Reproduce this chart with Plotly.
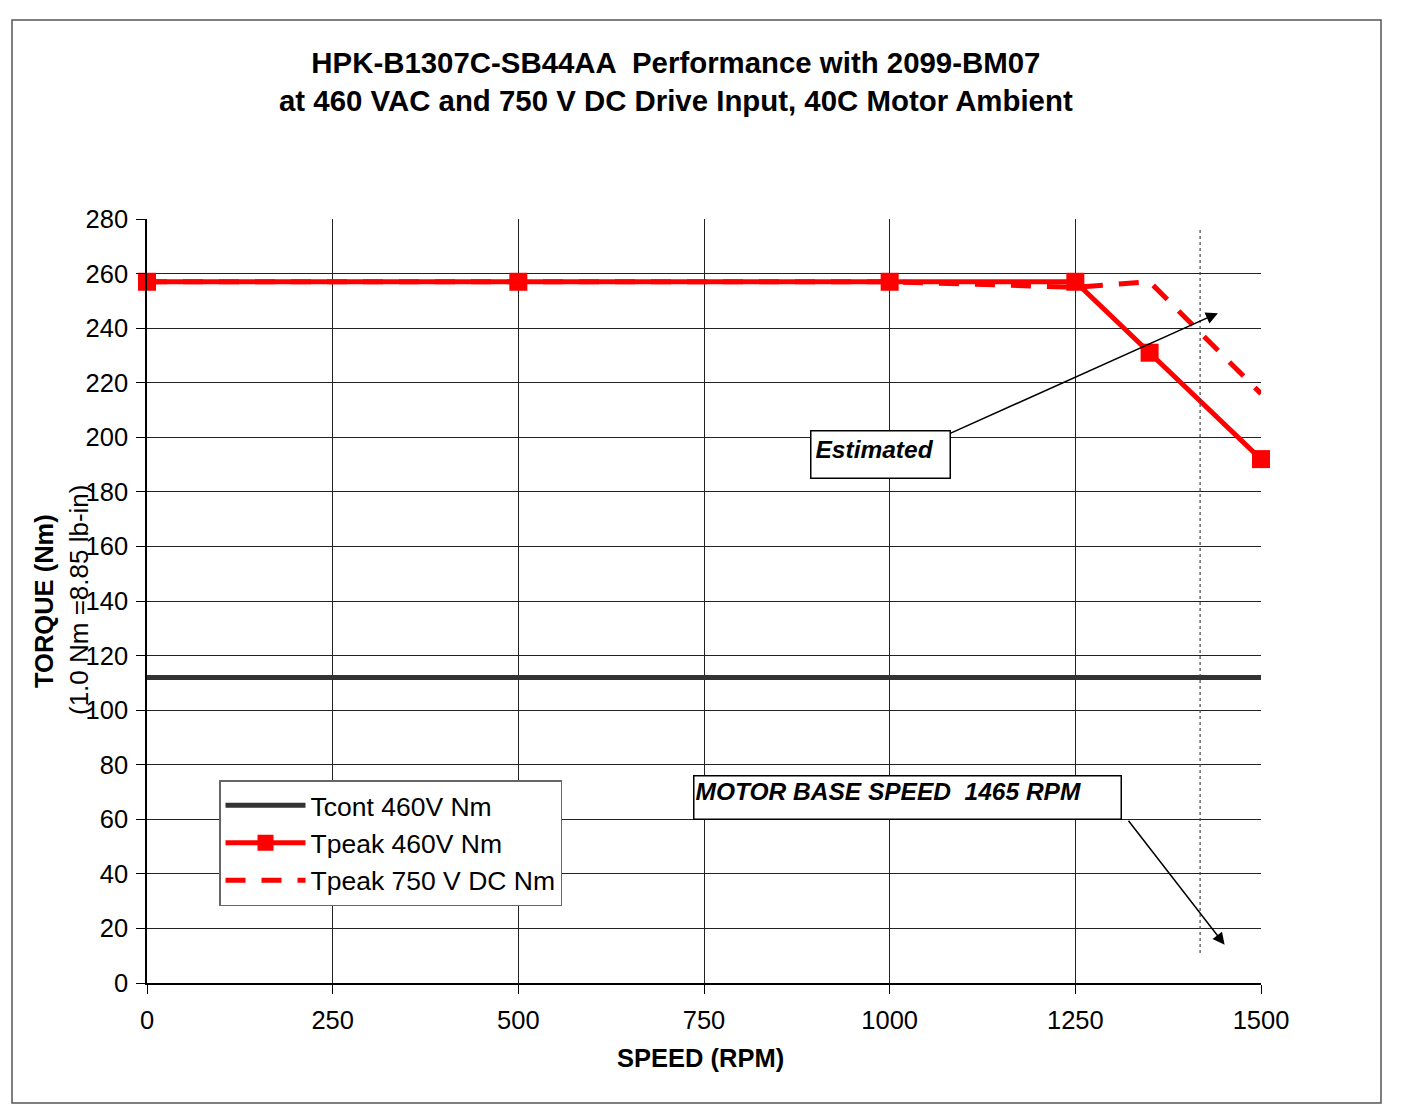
import plotly.graph_objects as go

# ---- data ----
speed_cont = [0, 1500]
tcont_460 = [112, 112]

speed_peak = [0, 500, 1000, 1250, 1350, 1500]
tpeak_460 = [257, 257, 257, 257, 231, 192]

speed_peak_dc = [0, 500, 1000, 1250, 1350, 1500]
tpeak_750dc = [257, 257, 257, 255, 257, 216]

x_ticks = [0, 250, 500, 750, 1000, 1250, 1500]
y_ticks = list(range(0, 281, 20))

base_speed_line_x = 1418
base_speed_line_y = [11, 276]

est_arrow = dict(tail=(1078, 201), head=(1442, 245.5))
base_arrow = dict(tail=(1320, 60), head=(1451, 14))

FONT = "Liberation Sans, Arial, sans-serif"

# page offset compensation (browser body margin = 8px)
OFF = 8
L, T = 147, 219  # plot area left/top on the page
PW, PH = 1114, 764


def px(x):
    return (x - L) / PW


def py(y):
    return (T + PH - y) / PH


fig = go.Figure()
fig.add_trace(go.Scatter(
    x=speed_cont, y=tcont_460, name="Tcont 460V Nm", mode="lines",
    line=dict(color="#333333", width=5), legendrank=1,
))
fig.add_trace(go.Scatter(
    x=speed_peak_dc, y=tpeak_750dc, name="Tpeak 750 V DC Nm", mode="lines",
    line=dict(color="#ff0000", width=5, dash="20px,16px"), legendrank=3,
))
fig.add_trace(go.Scatter(
    x=speed_peak, y=tpeak_460, name="Tpeak 460V Nm", mode="lines+markers",
    line=dict(color="#ff0000", width=5),
    marker=dict(symbol="square", size=18, color="#ff0000"),
    cliponaxis=False, legendrank=2,
))

# base speed dotted line
fig.add_shape(type="line", xref="x", yref="y",
              x0=base_speed_line_x, x1=base_speed_line_x,
              y0=base_speed_line_y[0], y1=base_speed_line_y[1],
              line=dict(color="#444444", width=1.2, dash="dot"))

# frames
fig.add_shape(type="rect", xref="paper", yref="paper",
              x0=px(12), x1=px(1381), y0=py(1103), y1=py(20),
              line=dict(color="#555555", width=1.5), layer="below")
fig.add_shape(type="line", xref="paper", yref="paper",
              x0=px(1401.5), x1=px(1401.5), y0=py(1110), y1=py(0),
              line=dict(color="black", width=3))

annots = []
# title
annots.append(dict(
    text="<b>HPK-B1307C-SB44AA  Performance with 2099-BM07</b><br><b>at 460 VAC and 750 V DC Drive Input, 40C Motor Ambient</b>",
    xref="paper", yref="paper", x=px(676), y=py(81),
    xanchor="center", yanchor="middle", showarrow=False,
    font=dict(family=FONT, size=29.4, color="black")))
# axis titles
annots.append(dict(text="<b>SPEED (RPM)</b>", xref="paper", yref="paper",
                   x=px(700), y=py(1058),
                   xanchor="center", yanchor="middle", showarrow=False,
                   font=dict(family=FONT, size=25.5, color="black")))
annots.append(dict(text="<b>TORQUE (Nm)</b>", xref="paper", yref="paper",
                   x=px(44), y=py(601), textangle=-90,
                   xanchor="center", yanchor="middle", showarrow=False,
                   font=dict(family=FONT, size=25.5, color="black")))
annots.append(dict(text="(1.0 Nm =8.85 lb-in)", xref="paper", yref="paper",
                   x=px(79), y=py(600), textangle=-90,
                   xanchor="center", yanchor="middle", showarrow=False,
                   font=dict(family=FONT, size=26, color="black")))
# arrows
for a in (est_arrow, base_arrow):
    annots.append(dict(x=a["head"][0], y=a["head"][1], ax=a["tail"][0], ay=a["tail"][1],
                       xref="x", yref="y", axref="x", ayref="y", text="",
                       showarrow=True, arrowhead=2, arrowsize=1.6, arrowwidth=1.5,
                       arrowcolor="black"))
# text boxes
annots.append(dict(text="<b><i>Estimated</i></b>", xref="paper", yref="paper",
                   x=px(810), y=py(430),
                   xanchor="left", yanchor="top", showarrow=False,
                   width=130, height=38, align="left", valign="top",
                   bgcolor="white", bordercolor="black", borderwidth=1.5, borderpad=4,
                   font=dict(family=FONT, size=24.5, color="black")))
annots.append(dict(text="<b><i>MOTOR BASE SPEED  1465 RPM</i></b>", xref="paper", yref="paper",
                   x=px(693), y=py(775),
                   xanchor="left", yanchor="top", showarrow=False,
                   width=424, height=40, align="left", valign="top",
                   bgcolor="white", bordercolor="black", borderwidth=1.5, borderpad=1,
                   font=dict(family=FONT, size=24.5, color="black")))

fig.update_layout(
    width=1405 - OFF, height=1104 - OFF,
    margin=dict(l=L - OFF, r=1405 - L - PW, t=T - OFF, b=1104 - T - PH),
    paper_bgcolor="white", plot_bgcolor="white",
    font=dict(family=FONT, size=25, color="black"),
    showlegend=True,
    legend=dict(x=px(219), y=py(780), xanchor="left", yanchor="top",
                bgcolor="white", bordercolor="#666666", borderwidth=1.5,
                font=dict(family=FONT, size=26.5, color="black"),
                itemwidth=80, tracegroupgap=0, traceorder="normal"),
    annotations=annots,
    xaxis=dict(range=[0, 1500], tickvals=x_ticks, ticktext=[str(v) for v in x_ticks],
               showgrid=True, gridcolor="#222222", gridwidth=1,
               showline=True, linecolor="black", linewidth=1.5,
               ticks="outside", ticklen=9, tickcolor="black", ticklabelstandoff=5,
               zeroline=False, tickfont=dict(size=25.5)),
    yaxis=dict(range=[0, 280], tickvals=y_ticks, ticktext=[str(v) for v in y_ticks],
               showgrid=True, gridcolor="#222222", gridwidth=1,
               showline=True, linecolor="black", linewidth=1.5,
               ticks="outside", ticklen=9, tickcolor="black", ticklabelstandoff=3,
               zeroline=False, tickfont=dict(size=25.5)),
)

fig.write_html("out.html")
